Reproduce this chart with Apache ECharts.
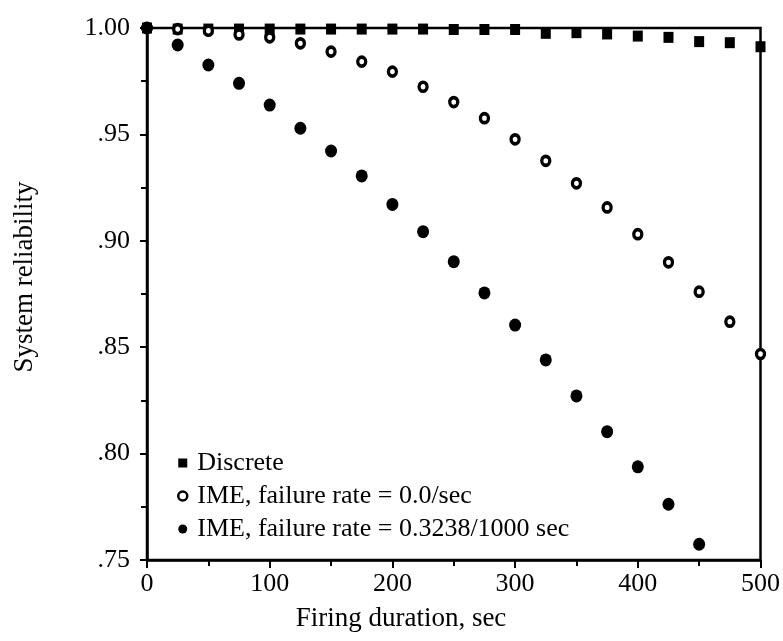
<!DOCTYPE html>
<html>
<head>
<meta charset="utf-8">
<script src="https://cdn.jsdelivr.net/npm/echarts@6/dist/echarts.min.js"></script>
<style>
  html, body { margin: 0; padding: 0; background: #fff; }
  #chart { width: 783px; height: 641px; }
</style>
</head>
<body>
<div id="chart"></div>
<script>
// ---- data ----
const durations = [0, 25, 50, 75, 100, 125, 150, 175, 200, 225, 250, 275, 300, 325, 350, 375, 400, 425, 450, 475, 500];
const discrete = [1.0, 0.9995, 0.9995, 0.9995, 0.9995, 0.9995, 0.9995, 0.9995, 0.9995, 0.9995, 0.9993, 0.9993, 0.9993, 0.9975, 0.9978, 0.9972, 0.9962, 0.9956, 0.9936, 0.9931, 0.9912];
const imeZero = [1.0, 0.9995, 0.9987, 0.997, 0.9956, 0.9928, 0.9889, 0.9842, 0.9795, 0.9724, 0.9652, 0.9576, 0.9477, 0.9376, 0.927, 0.9157, 0.9031, 0.8899, 0.8761, 0.862, 0.8468];
const imeRate = [1.0, 0.992, 0.9826, 0.974, 0.9638, 0.9529, 0.9422, 0.9305, 0.9171, 0.9043, 0.8902, 0.8755, 0.8604, 0.844, 0.8271, 0.8103, 0.7938, 0.7762, 0.7574];
const seriesNames = ['Discrete', 'IME, failure rate = 0.0/sec', 'IME, failure rate = 0.3238/1000 sec'];
const yTickValues = [0.75, 0.80, 0.85, 0.90, 0.95, 1.00];
const yTickLabels = ['.75', '.80', '.85', '.90', '.95', '1.00'];
const xTitle = 'Firing duration, sec';
const yTitle = 'System reliability';

const pair = (vals) => vals.map((v, i) => [durations[i], v]);
const FONT = "'Liberation Serif', 'DejaVu Serif', serif";

const chart = echarts.init(document.getElementById('chart'), null, { renderer: 'canvas' });
chart.setOption({
  animation: false,
  backgroundColor: '#fff',
  textStyle: { fontFamily: FONT, color: '#000' },
  grid: {
    left: 147, right: 20, top: 28, bottom: 81,
    show: true, borderColor: '#000', borderWidth: 2.5, backgroundColor: 'transparent',
    containLabel: false
  },
  xAxis: {
    type: 'value', min: 0, max: 500, interval: 100,
    axisLine: { show: true, lineStyle: { color: '#000', width: 2.5 } },
    axisTick: { show: true, length: 8, inside: false, lineStyle: { color: '#000', width: 2 } },
    minorTick: { show: true, splitNumber: 2, length: 6, lineStyle: { color: '#000', width: 2 } },
    splitLine: { show: false },
    axisLabel: { color: '#000', fontSize: 26, fontFamily: FONT, margin: 11 }
  },
  yAxis: {
    type: 'value', min: 0.75, max: 1.0, interval: 0.05,
    axisLine: { show: true, lineStyle: { color: '#000', width: 2.5 } },
    axisTick: { show: true, length: 7, inside: false, lineStyle: { color: '#000', width: 2 } },
    minorTick: { show: true, splitNumber: 2, length: 6, lineStyle: { color: '#000', width: 2 } },
    splitLine: { show: false },
    axisLabel: {
      color: '#000', fontSize: 26, fontFamily: FONT, margin: 17,
      formatter: (v) => {
        const i = yTickValues.findIndex(t => Math.abs(t - v) < 1e-6);
        return i >= 0 ? yTickLabels[i] : '';
      }
    }
  },
  legend: {
    orient: 'vertical', left: 172, top: 445,
    itemWidth: 9, itemHeight: 9, itemGap: 7,
    textStyle: { fontSize: 26, fontFamily: FONT, color: '#000', lineHeight: 26, padding: [0, 0, 0, 5] },
    data: [
      { name: seriesNames[0], icon: 'rect' },
      { name: seriesNames[1], icon: 'circle', itemStyle: { color: '#fff', borderColor: '#000', borderWidth: 2.5 } },
      { name: seriesNames[2], icon: 'circle' }
    ]
  },
  series: [
    {
      name: seriesNames[0], type: 'scatter', symbol: 'rect', symbolSize: [10, 11],
      itemStyle: { color: '#000', opacity: 1 }, data: pair(discrete), z: 2
    },
    {
      name: seriesNames[1], type: 'scatter', symbol: 'circle', symbolSize: [8, 9],
      itemStyle: { color: '#fff', borderColor: '#000', borderWidth: 3.5, opacity: 1 }, data: pair(imeZero), z: 3
    },
    {
      name: seriesNames[2], type: 'scatter', symbol: 'circle', symbolSize: [12, 13],
      itemStyle: { color: '#000', opacity: 1 }, data: pair(imeRate), z: 4
    }
  ],
  graphic: [
    {
      type: 'text', x: 401, y: 619,
      style: { text: xTitle, font: '27px ' + FONT, fill: '#000', textAlign: 'center', textVerticalAlign: 'middle' }
    },
    {
      type: 'text', x: 25, y: 277, rotation: Math.PI / 2,
      style: { text: yTitle, font: '27px ' + FONT, fill: '#000', textAlign: 'center', textVerticalAlign: 'middle' }
    }
  ]
});
</script>
</body>
</html>
